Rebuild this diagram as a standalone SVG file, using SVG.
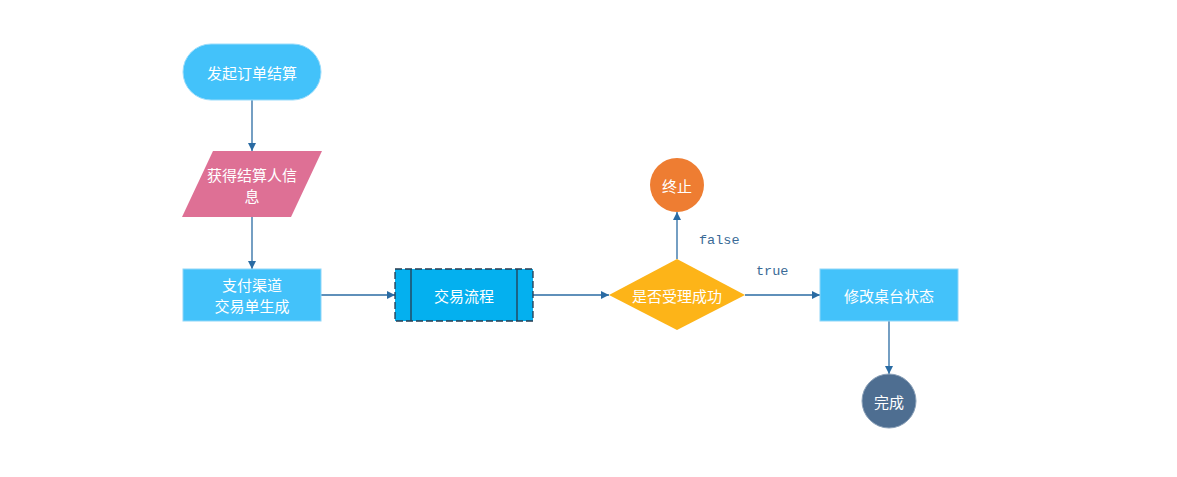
<svg xmlns="http://www.w3.org/2000/svg" width="1177" height="477" viewBox="0 0 1177 477">
<style>
.lbl{font-family:"Noto Sans CJK SC","Liberation Sans",sans-serif;font-size:15px;fill:#ffffff;text-anchor:middle;dominant-baseline:central}
.edge{fill:none;stroke:#2a6ba3;stroke-width:1.3}
.mono{font-family:"Liberation Mono",monospace;font-size:13.5px;fill:#3a6a96}
</style>
<defs>
<marker id="arr" viewBox="0 0 10 10" refX="10" refY="5" markerWidth="8" markerHeight="8" markerUnits="userSpaceOnUse" orient="auto">
<path d="M0,0 L10,5 L0,10 z" fill="#2a6ba3"/>
</marker>
</defs>
<rect width="1177" height="477" fill="#ffffff"/>
<g id="connectors">
<line class="edge" x1="252" y1="100" x2="252" y2="151" marker-end="url(#arr)"/>
<line class="edge" x1="252" y1="217" x2="252" y2="269" marker-end="url(#arr)"/>
<line class="edge" x1="321" y1="295" x2="395" y2="295" marker-end="url(#arr)"/>
<line class="edge" x1="533" y1="295" x2="609" y2="295" marker-end="url(#arr)"/>
<line class="edge" x1="677" y1="259" x2="677" y2="212" marker-end="url(#arr)"/>
<line class="edge" x1="745" y1="295" x2="820" y2="295" marker-end="url(#arr)"/>
<line class="edge" x1="889" y1="321" x2="889" y2="374" marker-end="url(#arr)"/>
<text class="mono" x="699" y="244">false</text>
<text class="mono" x="756" y="275">true</text>
</g>
<g id="start">
<rect x="183" y="44" width="138" height="56" rx="28" fill="#43c2fa" stroke="#9adcfb" stroke-width="1"/>
<text class="lbl" x="252" y="72">发起订单结算</text>
</g>
<g id="getinfo">
<polygon points="213,151 322,151 291,217 182,217" fill="#de7095"/>
<text class="lbl" x="252" y="174">获得结算人信</text>
<text class="lbl" x="252" y="195">息</text>
</g>
<g id="paychannel">
<rect x="183" y="269" width="138" height="52" fill="#43c2fa" stroke="#8fd6f8" stroke-width="1"/>
<text class="lbl" x="252" y="284">支付渠道</text>
<text class="lbl" x="252" y="305">交易单生成</text>
</g>
<g id="tradeflow">
<rect x="395" y="269" width="138" height="52" fill="#04b0ef" stroke="#263b50" stroke-width="1.3" stroke-dasharray="7,3"/>
<line x1="411" y1="269" x2="411" y2="321" stroke="#263b50" stroke-width="1.3"/>
<line x1="517" y1="269" x2="517" y2="321" stroke="#263b50" stroke-width="1.3"/>
<text class="lbl" x="464" y="295">交易流程</text>
</g>
<g id="decision">
<polygon points="677,259 745,295 677,330 609,295" fill="#fdb418"/>
<text class="lbl" x="677" y="295">是否受理成功</text>
</g>
<g id="stop">
<circle cx="677" cy="185" r="27" fill="#ee7d32"/>
<text class="lbl" x="677" y="185">终止</text>
</g>
<g id="update">
<rect x="820" y="269" width="138" height="52" fill="#43c2fa" stroke="#8fd6f8" stroke-width="1"/>
<text class="lbl" x="889" y="295">修改桌台状态</text>
</g>
<g id="done">
<circle cx="889" cy="401" r="27" fill="#4e6e91" stroke="#8aa0b8" stroke-width="1"/>
<text class="lbl" x="889" y="401">完成</text>
</g>
</svg>
